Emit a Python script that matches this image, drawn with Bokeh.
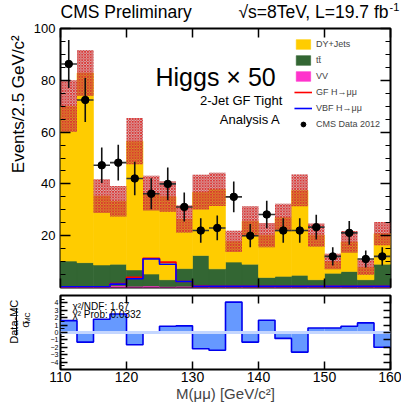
import numpy as np
from bokeh.plotting import figure
from bokeh.models import (ColumnDataSource, Range1d, FixedTicker, LinearAxis, Label,
                          Legend, LegendItem, BoxAnnotation)
from bokeh.layouts import column, row
from bokeh.embed import file_html
from bokeh.resources import INLINE

# ---------------- data ----------------
mass_lo = [110.0, 112.5, 115.0, 117.5, 120.0, 122.5, 125.0, 127.5, 130.0, 132.5,
           135.0, 137.5, 140.0, 142.5, 145.0, 147.5, 150.0, 152.5, 155.0, 157.5]
bin_width = 2.5
dy_jets = [59.8, 73.2, 26.6, 24.3, 49.7, 31.2, 32.1, 19.1, 24.4, 30.7,
           8.0, 16.6, 16.3, 22.7, 32.8, 17.2, 4.5, 11.4, 4.8, 11.8]
ttbar = [9.6, 9.1, 8.3, 8.3, 6.3, 4.6, 2.6, 6.8, 11.6, 6.7,
         9.4, 8.4, 3.4, 3.9, 4.2, 2.4, 4.8, 5.8, 2.5, 8.4]
diboson = [0.6, 0.5, 0.4, 0.7, 0.5, 0.6, 0.4, 0.5, 0.8, 0.5,
           0.4, 0.6, 0.5, 0.4, 0.5, 0.6, 0.7, 0.4, 0.5, 0.6]
mc_unc = [10.0, 8.9, 6.5, 5.9, 8.9, 6.7, 5.9, 5.3, 6.7, 6.4,
          4.1, 5.8, 4.7, 5.3, 6.1, 4.5, 3.0, 4.2, 3.0, 4.5]
gf_higgs = [0.3, 0.3, 0.3, 1.5, 3.9, 11.3, 9.8, 2.3, 0.6, 0.5,
            0.5, 0.5, 0.5, 0.5, 0.5, 0.5, 0.5, 0.5, 0.5, 0.5]
vbf_higgs = [0.3, 0.3, 0.3, 1.3, 3.4, 11.0, 9.0, 2.3, 0.5, 0.5,
             0.5, 0.5, 0.5, 0.5, 0.5, 0.5, 0.5, 0.5, 0.5, 0.5]
data_2012 = [86.3, 72.4, 47.2, 48.2, 42.1, 36.2, 40.0, 31.1, 22.0, 23.0,
             35.0, 20.0, 28.2, 22.0, 22.0, 23.3, 12.0, 21.1, 11.0, 12.0]
data_unc = [9.3, 8.5, 6.9, 6.9, 6.5, 6.0, 6.3, 5.6, 4.7, 4.8,
            5.9, 4.5, 5.3, 4.7, 4.7, 4.8, 3.5, 4.6, 3.3, 3.5]
pulls = [1.6, -1.3, 1.8, 2.5, -1.65, -0.1, 0.85, 0.9, -2.2, -2.4,
         4.1, -1.3, 1.65, -0.8, -2.65, 0.6, 0.6, 0.85, 1.3, -2.0]
x_ticks = [110, 120, 130, 140, 150, 160]
y_ticks = [20, 40, 60, 80, 100]
pull_ticks = [-4, -3, -2, -1, 0, 1, 2, 3, 4]

FONT = "Liberation Sans"

lo = np.array(mass_lo)
hi = lo + bin_width
ctr = lo + bin_width / 2
edges = list(lo) + [hi[-1]]
total = np.array(dy_jets) + np.array(ttbar) + np.array(diboson)
unc = np.array(mc_unc)
d = np.array(data_2012)
de = np.array(data_unc)


def style_axis(ax, tick_in, minor_in, label_size, hidden=False):
    ax.axis_line_color = None
    ax.major_tick_in = tick_in
    ax.major_tick_out = 0
    ax.minor_tick_in = minor_in
    ax.minor_tick_out = 0
    ax.major_tick_line_width = 1.5
    ax.minor_tick_line_width = 1.2
    ax.major_tick_line_color = "black"
    ax.minor_tick_line_color = "black" if minor_in else None
    ax.major_label_text_font = FONT
    ax.major_label_text_font_size = label_size
    ax.major_label_text_color = None if hidden else "black"
    ax.major_label_standoff = 0 if hidden else 3


def blank_fig(w, h):
    f = figure(width=w, height=h, x_range=Range1d(0, w), y_range=Range1d(0, h),
               output_backend="svg", toolbar_location=None, min_border=0,
               min_border_left=0, min_border_right=0, min_border_top=0, min_border_bottom=0,
               x_axis_location=None, y_axis_location=None, title=None)
    f.grid.visible = False
    f.outline_line_color = None
    return f


def lab(fig, text, x, y, size, align="left", baseline="alphabetic", angle=0.0, units="data"):
    fig.add_layout(Label(text=text, x=x, y=y, x_units=units, y_units=units,
                         text_font=FONT, text_font_size=size, text_align=align,
                         text_baseline=baseline, angle=angle, text_color="black"))


# ---------------- header ----------------
header = blank_fig(401, 22)
lab(header, "CMS Preliminary", 60, 11, "17.5px", baseline="middle")
lab(header, "\u221as=8TeV, L=19.7 fb", 388, 11, "17.5px", align="right", baseline="middle")
lab(header, "-1", 389, 15.5, "11px", baseline="middle")

# ---------------- main panel ----------------
p = figure(width=371, height=269, x_range=Range1d(110, 160), y_range=Range1d(0, 100),
           output_backend="svg", toolbar_location=None,
           min_border_left=30, min_border_right=11, min_border_top=6, min_border_bottom=4)
p.grid.visible = False
p.outline_line_color = "black"
p.outline_line_width = 2

src = ColumnDataSource(dict(mass=ctr, vv=diboson, tt=ttbar, dy=dy_jets))
stack = p.vbar_stack(["vv", "tt", "dy"], x="mass", width=bin_width,
                     color=["#ff33cc", "#336633", "#ffcc00"], source=src, line_width=0.6)

# MC uncertainty band (hatched)
p.quad(left=lo, right=hi, bottom=total - unc, top=total + unc,
       fill_color="#707070", fill_alpha=0.3, line_color=None,
       hatch_pattern="diagonal_cross", hatch_color="#dd3030", hatch_scale=2.8, hatch_weight=1.0)

# Higgs x 50 lines
r_gf = p.step(x=edges, y=list(gf_higgs) + [gf_higgs[-1]], mode="after",
              line_color="#ff0000", line_width=1.6)
r_vbf = p.step(x=edges, y=list(vbf_higgs) + [vbf_higgs[-1]], mode="after",
               line_color="#0000ff", line_width=1.6)

# data
p.segment(x0=ctr, x1=ctr, y0=d - de, y1=d + de, line_color="#111111", line_width=1.6)
p.segment(x0=lo, x1=hi, y0=d, y1=d, line_color="#333333", line_width=1.6)
r_data = p.scatter(ctr, d, size=7.5, color="black")

style_axis(p.xaxis[0], 9, 0, "1px", hidden=True)
p.xaxis[0].ticker = FixedTicker(ticks=x_ticks)
style_axis(p.yaxis[0], 10, 5, "13px")
p.yaxis[0].major_label_standoff = 5
p.yaxis[0].ticker = FixedTicker(ticks=y_ticks, minor_ticks=list(range(5, 100, 5)))
top_ax = LinearAxis(ticker=FixedTicker(ticks=x_ticks))
style_axis(top_ax, 9, 0, "1px", hidden=True)
p.add_layout(top_ax, "above")
right_ax = LinearAxis(ticker=FixedTicker(ticks=y_ticks, minor_ticks=list(range(5, 100, 5))))
style_axis(right_ax, 10, 5, "1px", hidden=True)
p.add_layout(right_ax, "right")

legend = Legend(items=[
    LegendItem(label="DY+Jets", renderers=[stack[2]]),
    LegendItem(label="t\u0074\u0304", renderers=[stack[1]]),
    LegendItem(label="VV", renderers=[stack[0]]),
    LegendItem(label="GF H\u2192\u03bc\u03bc", renderers=[r_gf]),
    LegendItem(label="VBF H\u2192\u03bc\u03bc", renderers=[r_vbf]),
    LegendItem(label="CMS Data 2012", renderers=[r_data]),
], location="top_right", border_line_color=None, background_fill_alpha=0,
    label_text_font_size="9px", label_text_font=FONT, glyph_width=18, glyph_height=12,
    label_height=12, spacing=4, padding=0, margin=10, label_standoff=4)
p.add_layout(legend)

lab(p, "Higgs \u00d7 50", 95, 211, "25px", units="screen")
lab(p, "2-Jet GF Tight", 222, 187, "13px", align="right", baseline="middle", units="screen")
lab(p, "Analysis A", 220, 168, "13px", align="right", baseline="middle", units="screen")

ylab_main = blank_fig(30, 269)
lab(ylab_main, "Events/2.5 GeV/c\u00b2", 18, 262, "17px", align="right", angle=np.pi / 2)

# ---------------- pull panel ----------------
r = figure(width=361, height=113, x_range=p.x_range, y_range=Range1d(-5, 5),
           output_backend="svg", toolbar_location=None,
           min_border_left=20, min_border_right=11, min_border_top=4, min_border_bottom=35)
r.grid.visible = False
r.outline_line_color = "black"
r.outline_line_width = 2
r.quad(left=lo, right=hi, bottom=0, top=pulls, fill_color="#6699ff", line_color=None)
r.add_layout(BoxAnnotation(bottom=-0.2, top=0.2, fill_color="#c4d6ff", fill_alpha=1,
                           line_color=None, level="glyph"))
r.step(x=edges, y=list(pulls) + [pulls[-1]], mode="after", line_color="#0000ee", line_width=1.6)

style_axis(r.xaxis[0], 8, 0, "14px")
r.xaxis[0].ticker = FixedTicker(ticks=x_ticks)
r.xaxis[0].major_label_standoff = 2
r.xaxis[0].axis_label = "M(\u03bc\u03bc) [GeV/c\u00b2]"
r.xaxis[0].axis_label_text_font = FONT
r.xaxis[0].axis_label_text_font_size = "15px"
r.xaxis[0].axis_label_text_font_style = "normal"
r.xaxis[0].axis_label_standoff = 0
style_axis(r.yaxis[0], 7, 4, "7px")
r.yaxis[0].ticker = FixedTicker(ticks=pull_ticks, minor_ticks=[-4.5, -3.5, -2.5, -1.5, -0.5,
                                                               0.5, 1.5, 2.5, 3.5, 4.5])
r.yaxis[0].major_label_standoff = 2
r_top = LinearAxis(ticker=FixedTicker(ticks=x_ticks))
style_axis(r_top, 8, 0, "1px", hidden=True)
r.add_layout(r_top, "above")
r_right = LinearAxis(ticker=FixedTicker(ticks=pull_ticks))
style_axis(r_right, 7, 4, "1px", hidden=True)
r.add_layout(r_right, "right")

lab(r, "\u03c7\u00b2/NDF: 1.67", 12, 69, "10px", baseline="top", units="screen")
lab(r, "\u03c7\u00b2  Prob: 0.0332", 12, 61, "10px", baseline="top", units="screen")

ylab_ratio = blank_fig(40, 113)
lab(ylab_ratio, "Data-MC", 13.5, 73, "11px", align="center", angle=np.pi / 2)
ylab_ratio.segment(x0=[16], x1=[16], y0=[52], y1=[94], line_color="black", line_width=1)
lab(ylab_ratio, "\u03c3", 24, 69, "11px", align="center", angle=np.pi / 2)
lab(ylab_ratio, "MC", 26.5, 79, "7px", align="center", angle=np.pi / 2)

layout = column(header, row(ylab_main, p), row(ylab_ratio, r))
open("out.html", "w").write(file_html(layout, INLINE))
